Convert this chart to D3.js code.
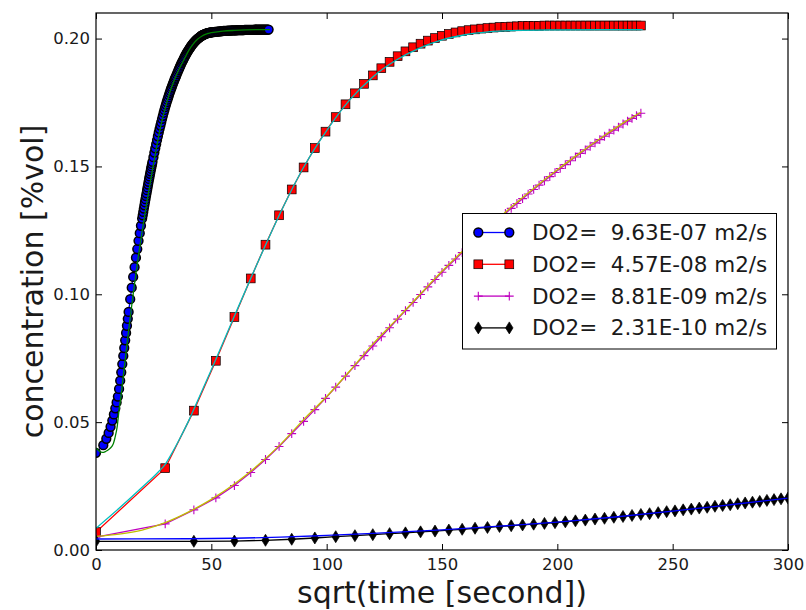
<!DOCTYPE html>
<html lang="en">
<head>
<meta charset="UTF-8">
<title>Concentration vs sqrt(time)</title>
<style>
  body { margin: 0; background: #fff; }
  svg { display: block; font-family: "DejaVu Sans", sans-serif; }
  .tick text { fill: #1a1a1a; font-size: 16.5px; font-family: "DejaVu Sans", sans-serif; }
  .tick line { stroke: #000; stroke-width: 1; }
  .legend text { white-space: pre; font-size: 21.5px; fill: #1a1a1a; }
</style>
</head>
<body>
<svg id="chart" width="806" height="610"></svg>
<script src="https://d3js.org/d3.v7.min.js"></script>
<script>
// tick values
const xTicks = [0, 50, 100, 150, 200, 250, 300];
const yTicks = [0, 0.05, 0.10, 0.15, 0.20];

// legend labels
const labels = ["DO2=  9.63E-07 m2/s", "DO2=  4.57E-08 m2/s", "DO2=  8.81E-09 m2/s", "DO2=  2.31E-10 m2/s"];

// measured data, [sqrt(time), concentration]
const blueCircles = [
  [0,0.0380],[3.16,0.0410],[4.47,0.0435],[5.48,0.0458],[6.32,0.0482],[7.07,0.0506],[7.75,0.0530],[8.37,0.0554],[8.94,0.0577],[9.49,0.0600],
  [10.0,0.0630],[10.49,0.0662],[10.95,0.0695],[11.40,0.0727],[11.83,0.0759],[12.25,0.0790],[12.65,0.0820],[13.04,0.0849],[13.42,0.0877],[13.78,0.0904],[14.14,0.0931],
  [14.83,0.0981],[15.49,0.1026],[16.12,0.1068],[16.73,0.1106],[17.32,0.1143],[17.89,0.1177],[18.44,0.1209],[18.97,0.1239],[19.49,0.1268],[20.0,0.1296],
  [20.49,0.1322],[20.98,0.1348],[21.45,0.1372],[21.91,0.1395],[22.36,0.1418],[22.80,0.1440],[23.24,0.1461],[23.66,0.1481],[24.08,0.1500],[24.49,0.1518],
  [25.30,0.1554],[26.08,0.1587],[26.83,0.1618],[27.57,0.1647],[28.28,0.1673],[28.98,0.1698],[29.66,0.1721],[30.33,0.1742],[30.98,0.1761],[31.62,0.1779],
  [32.25,0.1796],[32.86,0.1811],[33.47,0.1826],[34.06,0.1840],[34.64,0.1852],
  [35.36,0.1868],[36.06,0.1883],[36.74,0.1897],[37.42,0.1910],[38.08,0.1922],[38.73,0.1933],[39.37,0.1944],[40.0,0.1953],[40.62,0.1962],[41.23,0.1970],
  [41.83,0.1977],[42.43,0.1984],[43.01,0.1990],[43.59,0.1995],[44.16,0.2000],[44.72,0.2004],[45.28,0.2008],[45.83,0.2011],[46.37,0.2014],[46.90,0.2016],
  [47.43,0.2018],[47.96,0.2020],[48.48,0.2021],[48.99,0.2022],[49.50,0.2023],[50.0,0.2024],
  [50.99,0.2025],[51.96,0.2026],[52.92,0.2027],[53.85,0.2028],[54.77,0.2029],[55.68,0.2030],[56.57,0.2030],[57.45,0.2031],[58.31,0.2031],[59.16,0.2032],
  [60.0,0.2032],[60.83,0.2032],[61.64,0.2033],[62.45,0.2033],[63.25,0.2033],[64.03,0.2033],[64.81,0.2034],[65.57,0.2034],[66.33,0.2034],[67.08,0.2034],
  [67.82,0.2034],[68.56,0.2034],[69.28,0.2035],[70.0,0.2035],[70.71,0.2035],[71.41,0.2035],[72.11,0.2035],[72.80,0.2035],[73.48,0.2035],[74.16,0.2035],[74.83,0.2035]
];
// the same run, samples in between (the upper part is packed tight)
const blueCirclesMore = [
  [20.25,0.1309],[20.74,0.1335],[21.21,0.1360],[21.68,0.1384],[22.14,0.1407],[22.58,0.1429],[23.02,0.1451],[23.45,0.1471],[23.87,0.1491],[24.29,0.1509],[24.90,0.1536],
  [25.69,0.1571],[26.46,0.1603],[27.20,0.1633],[27.93,0.1660],[28.64,0.1686],[29.33,0.1710],[30.0,0.1732],[30.66,0.1752],[31.30,0.1770],[31.94,0.1788],
  [32.56,0.1804],[33.17,0.1819],[33.76,0.1833],[34.35,0.1846],
  [35.0,0.1860],[35.71,0.1876],[36.40,0.1890],[37.08,0.1904],[37.75,0.1916],[38.41,0.1928],[39.05,0.1939],[39.69,0.1949],[40.31,0.1958],[40.93,0.1966],
  [41.53,0.1974],[42.13,0.1981],[42.72,0.1987],[43.30,0.1993],[43.87,0.1998],[44.44,0.2002],[45.0,0.2006],[45.55,0.2010],[46.10,0.2013],[46.64,0.2015],
  [47.17,0.2017],[47.70,0.2019],[48.22,0.2021],[48.73,0.2022],[49.24,0.2023],[49.75,0.2024],
  [50.50,0.2025],[51.48,0.2026],[52.44,0.2027],[53.39,0.2028],[54.31,0.2029],[55.23,0.2030],[56.12,0.2030],[57.01,0.2031],[57.88,0.2031],[58.74,0.2032],
  [59.58,0.2032],[60.42,0.2032],[61.24,0.2033],[62.05,0.2033],[62.85,0.2033],[63.64,0.2033],[64.42,0.2034],[65.19,0.2034],[65.95,0.2034],[66.71,0.2034],
  [67.45,0.2034],[68.19,0.2034],[68.92,0.2035],[69.64,0.2035],[70.36,0.2035],[71.06,0.2035],[71.76,0.2035],[72.46,0.2035],[73.14,0.2035],[73.82,0.2035],[74.50,0.2035]
];
const greenFit = [
  [0,0.0399],[1,0.0390],[2.2,0.0383],[3.3,0.0382],[4.3,0.0386],[5.5,0.0393],[6.8,0.0404],[7.6,0.0418],[8.2,0.0438],[9.2,0.0483],
  [10.0,0.0548],[10.6,0.0587],[11.5,0.0656],[12.5,0.0733],[13.5,0.0810],[14.5,0.0885],[15.5,0.0957],[16.5,0.1027],[17.5,0.1094],[18.5,0.1157],
  [19.5,0.1217],[20.5,0.1274],[22,0.1356],[24,0.1462],[26,0.1563],[28,0.1655],[30,0.1727],[32,0.1790],[34,0.1839],[36,0.1880],
  [38,0.1915],[40,0.1950],[42,0.1977],[44,0.1997],[46,0.2010],[48,0.2018],[50,0.2023],[55,0.2029],[60,0.2032],[65,0.2034],[70,0.2035],[75.4,0.2035]
];
const redSquares = [
  [0,0.0070],[30,0.0320],[42.43,0.0545],[51.96,0.0740],[60,0.0911],[67.08,0.1062],[73.48,0.1194],[79.37,0.1309],[84.85,0.1410],[90,0.1496],
  [94.87,0.1572],[99.50,0.1636],[103.92,0.1693],[108.17,0.1743],[112.25,0.1786],[116.19,0.1823],[120,0.1856],[123.69,0.1884],[127.28,0.1909],[130.77,0.1931],
  [134.16,0.1950],[137.48,0.1966],[140.71,0.1980],[143.87,0.1992],[146.97,0.2002],[150,0.2011],[152.97,0.2018],[155.88,0.2024],[158.75,0.2029],[161.55,0.2033],
  [164.32,0.2036],[167.03,0.2039],[169.71,0.2041],[172.34,0.2043],[174.93,0.2045],[177.48,0.2046],[180,0.2047],[182.48,0.2048],[184.93,0.2049],[187.35,0.2050],
  [189.74,0.2050],[192.09,0.2050],[194.42,0.2051],[196.72,0.2051],[198.99,0.2051],[201.25,0.2051],[203.47,0.2051],[205.67,0.2051],[207.85,0.2051],[210,0.2051],
  [212.13,0.2051],[214.24,0.2051],[216.33,0.2051],[218.40,0.2051],[220.45,0.2051],[222.49,0.2051],[224.50,0.2051],[226.50,0.2051],[228.47,0.2051],[230.43,0.2051],
  [232.38,0.2051],[234.31,0.2051],[236.22,0.2051]
];
const cyanFit = [
  [0,0.0085],[10,0.0163],[20,0.0245],[27,0.0305],[30,0.0335],[33,0.0380],[36,0.0430],[40,0.0502],[43,0.0562],[50,0.0705],
  [60,0.0915],[70,0.1122],[80,0.1320],[90,0.1497],[100,0.1640],[110,0.1760],[120,0.1850],[130,0.1915],[140,0.1962],[150,0.1995],
  [160,0.2015],[170,0.2026],[180,0.2031],[200,0.2034],[220,0.2035],[237,0.2035]
];
const magentaPlus = [
  [0,0.0050],[30,0.0102],[42.43,0.0157],[51.96,0.0204],[60,0.0252],[67.08,0.0303],[73.48,0.0354],[79.37,0.0405],[84.85,0.0455],[90,0.0503],
  [94.87,0.0549],[99.50,0.0593],[103.92,0.0637],[108.17,0.0680],[112.25,0.0721],[116.19,0.0760],[120,0.0798],[123.69,0.0834],[127.28,0.0869],[130.77,0.0903],
  [134.16,0.0936],[137.48,0.0968],[140.71,0.0999],[143.87,0.1029],[146.97,0.1058],[150,0.1086],[152.97,0.1113],[155.88,0.1138],[158.75,0.1163],[161.55,0.1187],
  [164.32,0.1210],[167.03,0.1232],[169.71,0.1254],[172.34,0.1275],[174.93,0.1296],[177.48,0.1316],[180,0.1336],[182.48,0.1355],[184.93,0.1374],[187.35,0.1392],
  [189.74,0.1410],[192.09,0.1427],[194.42,0.1444],[196.72,0.1460],[198.99,0.1476],[201.25,0.1492],[203.47,0.1507],[205.67,0.1522],[207.85,0.1537],[210,0.1551],
  [212.13,0.1565],[214.24,0.1579],[216.33,0.1592],[218.40,0.1605],[220.45,0.1618],[222.49,0.1630],[224.50,0.1642],[226.50,0.1654],[228.47,0.1666],[230.43,0.1677],
  [232.38,0.1688],[234.31,0.1699],[236.22,0.1708]
];
const yellowFit = [
  [0,0.0053],[10,0.0062],[20,0.0078],[30,0.0107],[40,0.0148],[50,0.0198],[60,0.0258],[70,0.0330],[80,0.0413],[90,0.0510],
  [100,0.0600],[110,0.0700],[120,0.0805],[130,0.0899],[140,0.0995],[150,0.1090],[160,0.1178],[170,0.1259],[180,0.1341],[190,0.1416],
  [200,0.1487],[210,0.1554],[220,0.1618],[230,0.1678],[236.22,0.1712]
];
const blackDiamonds = [
  [0,0.0034],[42.43,0.0034],[60,0.0035],[73.48,0.0038],[84.85,0.0042],[94.87,0.0047],[103.92,0.0052],[112.25,0.0056],[120,0.0060],[127.28,0.0064],
  [134.16,0.0067],[140.71,0.0071],[146.97,0.0074],[152.97,0.0078],[158.75,0.0081],[164.32,0.0085],[169.71,0.0088],[174.93,0.0092],[180,0.0095],[184.93,0.0098],
  [189.74,0.0101],[194.42,0.0104],[198.99,0.0107],[203.47,0.0110],[207.85,0.0114],[212.13,0.0117],[216.33,0.0121],[220.45,0.0124],[224.50,0.0128],[228.47,0.0131],
  [232.38,0.0135],[236.22,0.0139],[240,0.0142],[243.72,0.0146],[247.39,0.0150],[251.0,0.0153],[254.56,0.0157],[258.07,0.0160],[261.53,0.0164],[264.95,0.0167],
  [268.33,0.0171],[271.66,0.0174],[274.95,0.0177],[278.21,0.0181],[281.42,0.0184],[284.60,0.0187],[287.75,0.0190],[290.86,0.0194],[293.94,0.0197],[296.98,0.0200],[300,0.0203]
];
const blueFit = [
  [0,0.0043],[40,0.0044],[60,0.0046],[80,0.0050],[100,0.0057],[120,0.0065],[150,0.0079],[175,0.0093],[200,0.0109],[225,0.0129],[250,0.0152],[275,0.0177],[300,0.0203]
];

const svg = d3.select("#chart");
const plotLeft = 96, plotRight = 788, plotTop = 13, plotBottom = 550;

const x = d3.scaleLinear().domain([0, 300]).range([plotLeft, plotRight]);
const y = d3.scaleLinear().domain([0, 0.21]).range([plotBottom, plotTop]);

svg.append("rect").attr("width", 806).attr("height", 610).attr("fill", "#fff");

svg.append("defs").append("clipPath").attr("id", "plotclip")
  .append("rect")
  .attr("x", plotLeft).attr("y", plotTop)
  .attr("width", plotRight - plotLeft).attr("height", plotBottom - plotTop);

// axes, ticks pointing inwards on all four sides
svg.append("g").attr("transform", "translate(0," + plotBottom + ")")
  .call(d3.axisBottom(x).tickValues(xTicks).tickSizeInner(-6).tickSizeOuter(0).tickPadding(8).tickFormat(d3.format("d")));
svg.append("g").attr("transform", "translate(0," + plotTop + ")")
  .call(d3.axisTop(x).tickValues(xTicks).tickSizeInner(-6).tickSizeOuter(0).tickFormat(""));
svg.append("g").attr("transform", "translate(" + plotLeft + ",0)")
  .call(d3.axisLeft(y).tickValues(yTicks).tickSizeInner(-6).tickSizeOuter(0).tickPadding(6).tickFormat(d3.format(".2f")));
svg.append("g").attr("transform", "translate(" + plotRight + ",0)")
  .call(d3.axisRight(y).tickValues(yTicks).tickSizeInner(-6).tickSizeOuter(0).tickFormat(""));
svg.selectAll(".domain").remove();

const plot = svg.append("g").attr("clip-path", "url(#plotclip)");

const straight = d3.line().x(d => x(d[0])).y(d => y(d[1]));
const smooth = d3.line().curve(d3.curveMonotoneX).x(d => x(d[0])).y(d => y(d[1]));

const blueAll = d3.sort(blueCircles.concat(blueCirclesMore), d => d[0]);

const series = [
  {data: blueAll, color: "#0000ff", marker: "circle", fit: greenFit, fitColor: "#008000"},
  {data: redSquares, color: "#ff0000", marker: "square", fit: cyanFit, fitColor: "#00bfbf"},
  {data: magentaPlus, color: "#bf00bf", marker: "plus", fit: yellowFit, fitColor: "#bfbf00"},
  {data: blackDiamonds, color: "#000000", marker: "diamond", fit: blueFit, fitColor: "#0000ff"}
];

function drawMarkers(g, data, s) {
  if (s.marker === "circle") {
    g.selectAll(null).data(data).enter().append("circle")
      .attr("cx", d => x(d[0])).attr("cy", d => y(d[1])).attr("r", 4.4)
      .attr("fill", s.color).attr("stroke", "#000").attr("stroke-width", 1.5);
  } else if (s.marker === "square") {
    g.selectAll(null).data(data).enter().append("rect")
      .attr("x", d => x(d[0]) - 4.4).attr("y", d => y(d[1]) - 4.4)
      .attr("width", 8.8).attr("height", 8.8)
      .attr("fill", s.color).attr("stroke", "#000").attr("stroke-width", 0.7);
  } else if (s.marker === "plus") {
    g.selectAll(null).data(data).enter().append("path")
      .attr("d", d => "M" + (x(d[0]) - 4.4) + "," + y(d[1]) + "h8.8M" + x(d[0]) + "," + (y(d[1]) - 4.4) + "v8.8")
      .attr("fill", "none").attr("stroke", s.color).attr("stroke-width", 1.1);
  } else {
    g.selectAll(null).data(data).enter().append("path")
      .attr("d", d => "M" + x(d[0]) + "," + (y(d[1]) - 6) + "l3.7,6l-3.7,6l-3.7,-6z")
      .attr("fill", s.color).attr("stroke", "#000").attr("stroke-width", 0.7);
  }
}

series.forEach(s => {
  plot.append("path").datum(s.data).attr("d", straight)
    .attr("fill", "none").attr("stroke", s.color).attr("stroke-width", 1.3);
  drawMarkers(plot.append("g"), s.data, s);
  plot.append("path").datum(s.fit).attr("d", smooth)
    .attr("fill", "none").attr("stroke", s.fitColor).attr("stroke-width", 1.3);
});

// frame
svg.append("rect").attr("x", plotLeft).attr("y", plotTop)
  .attr("width", plotRight - plotLeft).attr("height", plotBottom - plotTop)
  .attr("fill", "none").attr("stroke", "#000").attr("stroke-width", 1.2);

// axis labels
svg.append("text").attr("x", (plotLeft + plotRight) / 2).attr("y", 603)
  .attr("text-anchor", "middle").attr("font-size", 30).attr("fill", "#1a1a1a")
  .text("sqrt(time [second])");
svg.append("text").attr("transform", "translate(43," + (plotTop + plotBottom) / 2 + ") rotate(-90)")
  .attr("text-anchor", "middle").attr("font-size", 30).attr("fill", "#1a1a1a")
  .text("concentration [%vol]");

// legend
const legend = svg.append("g").attr("class", "legend");
legend.append("rect").attr("x", 462.5).attr("y", 213.5).attr("width", 314).attr("height", 135.5)
  .attr("fill", "#fff").attr("stroke", "#000").attr("stroke-width", 1);
series.forEach((s, i) => {
  const cy = 232.5 + i * 31.8;
  const g = legend.append("g");
  g.append("line").attr("x1", 478.3).attr("x2", 509.3).attr("y1", cy).attr("y2", cy)
    .attr("stroke", s.color).attr("stroke-width", 1.3);
  const pts = [[x.invert(478.3), y.invert(cy)], [x.invert(509.3), y.invert(cy)]];
  drawMarkers(g, pts, s);
  g.append("text").attr("x", 532).attr("y", cy + 7.5).text(labels[i]);
});
</script>
</body>
</html>
